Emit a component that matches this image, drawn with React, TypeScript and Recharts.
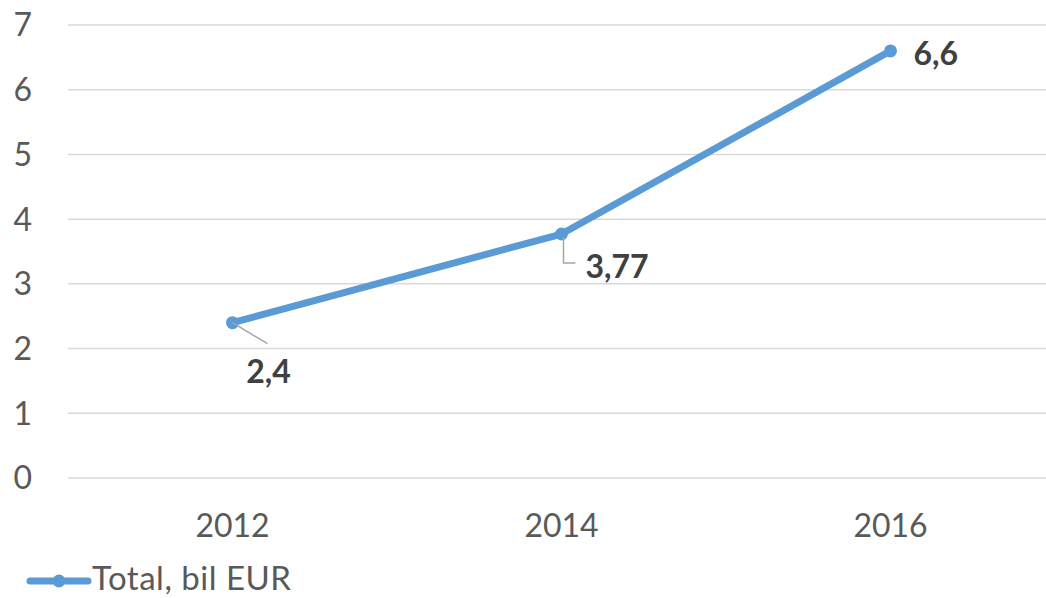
import React from "react";
import {
  LineChart,
  Line,
  XAxis,
  YAxis,
  CartesianGrid,
  LabelList,
} from "recharts";

const years = ["2012", "2014", "2016"];
const totals = [2.4, 3.77, 6.6];
const yTicks = [0, 1, 2, 3, 4, 5, 6, 7];
const seriesName = "Total, bil EUR";

const BLUE = "#5B9BD5";
const GRID = "#D9D9D9";
const AXIS_TEXT = "#595959";
const LABEL_TEXT = "#404040";
const FONT = "Lato, 'Liberation Sans', sans-serif";

const data = years.map((year, i) => ({ year, total: totals[i] }));

function DataLabel(props: any) {
  const { x, y, value, index } = props;
  const text = String(value).replace(".", ",");
  const style = { fontFamily: FONT, fontSize: 32, fontWeight: 700, fill: LABEL_TEXT };
  if (index === 0) {
    return (
      <g>
        <line x1={x} y1={y} x2={x + 35} y2={y + 21} stroke="#A6A6A6" strokeWidth={1.5} />
        <text x={x + 36} y={y + 48} textAnchor="middle" dominantBaseline="central" style={style}>
          {text}
        </text>
      </g>
    );
  }
  if (index === 1) {
    return (
      <g>
        <polyline
          points={`${x + 2},${y + 3} ${x + 2},${y + 29} ${x + 14},${y + 29}`}
          fill="none"
          stroke="#A6A6A6"
          strokeWidth={1.5}
        />
        <text x={x + 24} y={y + 31} textAnchor="start" dominantBaseline="central" style={style}>
          {text}
        </text>
      </g>
    );
  }
  return (
    <text x={x + 23} y={y + 2} textAnchor="start" dominantBaseline="central" style={style}>
      {text}
    </text>
  );
}

export default function App() {
  return (
    <div
      style={{
        position: "absolute",
        left: 0,
        top: 0,
        width: 1046,
        height: 598,
        overflow: "hidden",
        background: "#fff",
      }}
    >
      <LineChart
        width={1055}
        height={598}
        data={data}
        margin={{ top: 25, right: 0, left: 0, bottom: 50 }}
      >
        <CartesianGrid vertical={false} stroke={GRID} strokeWidth={1.5} />
        <XAxis
          dataKey="year"
          axisLine={false}
          tickLine={false}
          height={70}
          padding={{ left: 164.5, right: 164.5 }}
          tickMargin={30}
          tick={{ fill: AXIS_TEXT, fontSize: 32, fontFamily: FONT }}
        />
        <YAxis
          domain={[0, 7]}
          ticks={yTicks}
          width={68}
          axisLine={false}
          tickLine={false}
          tickMargin={30}
          tick={{ fill: AXIS_TEXT, fontSize: 32, fontFamily: FONT }}
        />
        <Line
          dataKey="total"
          name={seriesName}
          stroke={BLUE}
          strokeWidth={7}
          strokeLinejoin="round"
          dot={{ r: 6.5, fill: BLUE, stroke: "none" }}
          isAnimationActive={false}
        >
          <LabelList dataKey="total" content={<DataLabel />} />
        </Line>
      </LineChart>

      {/* legend */}
      <div
        style={{
          position: "absolute",
          left: 0,
          top: 559,
          width: 400,
          height: 36,
          display: "flex",
          alignItems: "center",
          whiteSpace: "nowrap",
        }}
      >
        <svg width={92} height={36} style={{ flex: "none" }}>
          <line x1={30} y1={22} x2={88} y2={22} stroke={BLUE} strokeWidth={7} strokeLinecap="round" />
          <circle cx={59} cy={22} r={6.5} fill={BLUE} />
        </svg>
        <span
          style={{
            fontFamily: FONT,
            fontSize: 33,
            letterSpacing: 0.5,
            color: AXIS_TEXT,
            lineHeight: "36px",
          }}
        >
          {seriesName}
        </span>
      </div>
    </div>
  );
}
